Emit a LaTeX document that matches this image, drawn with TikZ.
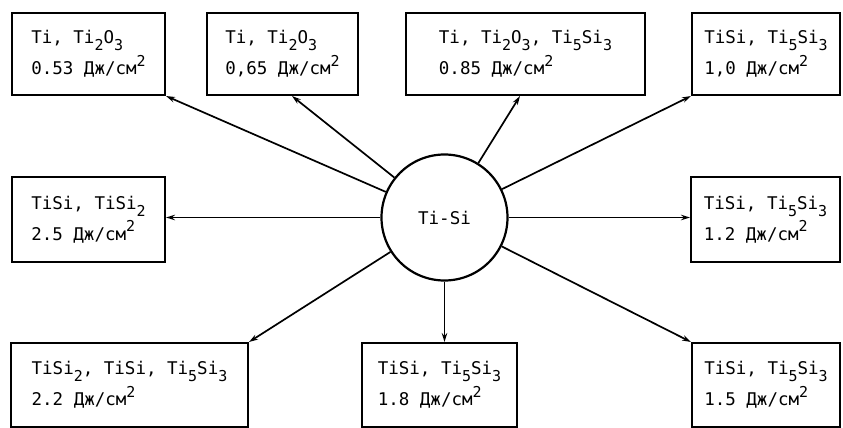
\documentclass[tikz,border=0pt]{standalone}
\usepackage{fontspec}
\setmainfont{DejaVu Sans Mono}
\usetikzlibrary{arrows.meta,calc}

% lowered index and raised exponent, set nearly at full size
\newcommand\lo[1]{\raisebox{-0.75ex}{\fontsize{15}{15}\selectfont #1}}
\newcommand\hi[1]{\raisebox{0.9ex}{\fontsize{15}{15}\selectfont #1}}

\begin{document}
\begin{tikzpicture}[x=1pt,y=-1pt,
  box/.style={draw, line width=2pt, rectangle, align=left, inner sep=0pt,
              font=\fontsize{17.5}{31}\selectfont},
  hub/.style={draw, circle, line width=2.2pt, minimum size=126pt, inner sep=0pt,
              font=\fontsize{17.5}{20}\selectfont},
  link/.style={line width=1.7pt, -{Stealth[length=9pt,width=5.5pt]}}]
\useasboundingbox (0,0) rectangle (843,428);

% central material
\node[hub] (hub) at (444.5,217.5) {Ti-Si};

% top row
\node[box, minimum width=153pt, minimum height=82pt] (b1) at (88.5,54)
  {Ti, Ti\lo{2}O\lo{3}\\0.53 Дж/см\hi{2}};
\node[box, minimum width=151pt, minimum height=82pt] (b2) at (282.5,54)
  {Ti, Ti\lo{2}O\lo{3}\\0,65 Дж/см\hi{2}};
\node[box, minimum width=239pt, minimum height=82pt] (b3) at (525.5,54)
  {Ti, Ti\lo{2}O\lo{3}, Ti\lo{5}Si\lo{3}\\0.85 Дж/см\hi{2}};
\node[box, minimum width=148pt, minimum height=82pt] (b4) at (766,54)
  {TiSi, Ti\lo{5}Si\lo{3}\\1,0 Дж/см\hi{2}};

% middle row
\node[box, minimum width=153pt, minimum height=85pt] (b5) at (88.5,219.5)
  {TiSi, TiSi\lo{2}\\2.5 Дж/см\hi{2}};
\node[box, minimum width=149pt, minimum height=85pt] (b6) at (765.5,219.5)
  {TiSi, Ti\lo{5}Si\lo{3}\\1.2 Дж/см\hi{2}};

% bottom row
\node[box, minimum width=237pt, minimum height=84pt] (b7) at (129.5,385)
  {TiSi\lo{2}, TiSi, Ti\lo{5}Si\lo{3}\\2.2 Дж/см\hi{2}};
\node[box, minimum width=155pt, minimum height=84pt] (b8) at (439.5,385)
  {TiSi, Ti\lo{5}Si\lo{3}\\1.8 Дж/см\hi{2}};
\node[box, minimum width=148pt, minimum height=84pt] (b9) at (766,385)
  {TiSi, Ti\lo{5}Si\lo{3}\\1.5 Дж/см\hi{2}};

% radial connectors
\draw[link] (hub) -- (b1.south east);
\draw[link] (hub) -- ([xshift=9.5pt]b2.south);
\draw[link] (hub) -- ([xshift=-5.5pt]b3.south);
\draw[link] (hub) -- (b4.south west);
\draw[link] (hub) -- (hub -| b5.east);
\draw[link] (hub) -- (hub -| b6.west);
\draw[link] (hub) -- (b7.north east);
\draw[link] (hub) -- (hub |- b8.north);
\draw[link] (hub) -- (b9.north west);
\end{tikzpicture}
\end{document}
